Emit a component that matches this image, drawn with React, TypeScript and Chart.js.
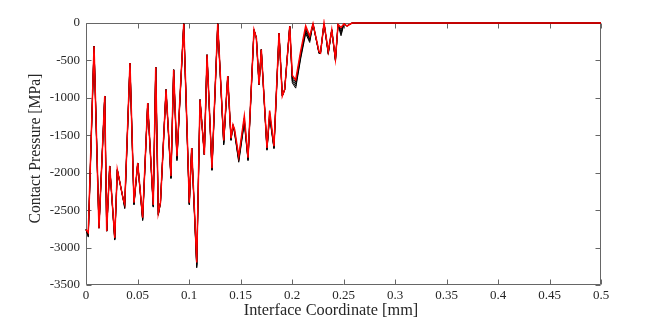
import React, { useEffect, useRef } from "react";
import { Chart, registerables } from "chart.js";

Chart.register(...registerables);

// Interface coordinate [mm]
const xs = [0, 0.0022, 0.0078, 0.0126, 0.0182, 0.0201, 0.023, 0.0279, 0.0304, 0.0362, 0.0376, 0.0427, 0.0466, 0.0502, 0.055, 0.0599, 0.0653, 0.0677, 0.0702, 0.0723, 0.0777, 0.0825, 0.0851, 0.0883, 0.0949, 0.1003, 0.1026, 0.1075, 0.1107, 0.1149, 0.1175, 0.1223, 0.1279, 0.1337, 0.1376, 0.1408, 0.1427, 0.1442, 0.1483, 0.1537, 0.1573, 0.1631, 0.1654, 0.168, 0.1702, 0.1757, 0.1783, 0.1825, 0.1874, 0.1906, 0.1929, 0.1978, 0.2003, 0.2036, 0.2084, 0.2133, 0.2172, 0.2204, 0.2262, 0.2277, 0.2311, 0.2352, 0.2386, 0.2422, 0.2447, 0.2476, 0.2505, 0.2534, 0.2583, 0.5];

// Contact pressure [MPa], red (final) curve
const redPressure = [-2760, -2800, -310, -2740, -975, -2780, -1910, -2870, -1960, -2360, -2420, -535, -2400, -1870, -2600, -1070, -2430, -590, -2540, -2400, -890, -2045, -625, -1780, -10, -2400, -1670, -3200, -1025, -1760, -425, -1940, -10, -1570, -710, -1540, -1360, -1420, -1780, -1245, -1800, -90, -200, -825, -355, -1670, -1170, -1645, -135, -975, -890, -45, -700, -760, -380, -40, -175, -10, -380, -400, 0, -380, -90, -480, -20, -60, -10, -40, 0, 0];

// Contact pressure [MPa], black curves
const black1 = [-2760, -2815, -310, -2740, -975, -2780, -1910, -2878, -1960, -2360, -2435, -535, -2408, -1870, -2610, -1070, -2438, -590, -2548, -2400, -890, -2054, -625, -1795, -10, -2408, -1670, -3218, -1025, -1760, -425, -1948, -10, -1585, -710, -1548, -1360, -1433, -1800, -1269, -1810, -90, -200, -825, -355, -1678, -1193, -1654, -135, -975, -890, -45, -725, -788, -405, -65, -196, -10, -388, -400, 0, -390, -90, -488, -20, -88, -10, -40, 0, 0];
const black2 = [-2760, -2830, -310, -2740, -975, -2780, -1910, -2885, -1960, -2360, -2450, -535, -2415, -1870, -2620, -1070, -2445, -590, -2555, -2400, -890, -2063, -625, -1810, -10, -2415, -1670, -3235, -1025, -1760, -425, -1955, -10, -1600, -710, -1555, -1360, -1445, -1820, -1293, -1820, -90, -200, -825, -355, -1685, -1215, -1663, -135, -975, -890, -45, -750, -815, -430, -90, -218, -10, -395, -400, 0, -400, -90, -495, -20, -115, -10, -40, 0, 0];
const black3 = [-2760, -2845, -310, -2740, -975, -2780, -1910, -2893, -1960, -2360, -2465, -535, -2423, -1870, -2630, -1070, -2453, -590, -2563, -2400, -890, -2071, -625, -1825, -10, -2423, -1670, -3253, -1025, -1760, -425, -1963, -10, -1615, -710, -1563, -1360, -1458, -1840, -1316, -1830, -90, -200, -825, -355, -1693, -1238, -1671, -135, -975, -890, -45, -775, -843, -455, -115, -239, -10, -403, -400, 0, -410, -90, -503, -20, -143, -10, -40, 0, 0];
const black4 = [-2760, -2860, -310, -2740, -975, -2780, -1910, -2900, -1960, -2360, -2480, -535, -2430, -1870, -2640, -1070, -2460, -590, -2570, -2400, -890, -2080, -625, -1840, -10, -2430, -1670, -3270, -1025, -1760, -425, -1970, -10, -1630, -710, -1570, -1360, -1470, -1860, -1340, -1840, -90, -200, -825, -355, -1700, -1260, -1680, -135, -975, -890, -45, -800, -870, -480, -140, -260, -10, -410, -400, 0, -420, -90, -510, -20, -170, -10, -40, 0, 0];

const xTicks = [0, 0.05, 0.1, 0.15, 0.2, 0.25, 0.3, 0.35, 0.4, 0.45, 0.5];
const xTickLabels = ["0", "0.05", "0.1", "0.15", "0.2", "0.25", "0.3", "0.35", "0.4", "0.45", "0.5"];
const yTicks = [-3500, -3000, -2500, -2000, -1500, -1000, -500, 0];
const yTickLabels = ["-3500", "-3000", "-2500", "-2000", "-1500", "-1000", "-500", "0"];

const xTitle = "Interface Coordinate [mm]";
const yTitle = "Contact Pressure [MPa]";

const FONT = "'Liberation Serif', 'Times New Roman', serif";
const TEXT = "#262626";

const toPoints = (ys: number[]) => xs.map((x, i) => ({ x, y: ys[i] }));

const boxPlugin = {
  id: "matlabBox",
  beforeDatasetsDraw(chart: any) {
    const { ctx, chartArea, scales } = chart;
    const L = Math.round(chartArea.left) + 0.5;
    const R = Math.round(chartArea.right) - 0.5;
    const T = Math.round(chartArea.top) + 0.5;
    const B = Math.round(chartArea.bottom) - 0.5;
    const tl = 5;
    ctx.save();
    ctx.strokeStyle = "#666666";
    ctx.lineWidth = 1;
    ctx.beginPath();
    ctx.rect(L, T, R - L, B - T);
    for (const v of xTicks) {
      const px = Math.round(scales.x.getPixelForValue(v)) + 0.5;
      ctx.moveTo(px, B);
      ctx.lineTo(px, B - tl);
      ctx.moveTo(px, T);
      ctx.lineTo(px, T + tl);
    }
    for (const v of yTicks) {
      const py = Math.round(scales.y.getPixelForValue(v)) + 0.5;
      ctx.moveTo(L, py);
      ctx.lineTo(L + tl, py);
      ctx.moveTo(R, py);
      ctx.lineTo(R - tl, py);
    }
    ctx.stroke();
    ctx.restore();
  },
  afterDraw(chart: any) {
    const { ctx } = chart;
    ctx.save();
    ctx.fillStyle = TEXT;
    ctx.textAlign = "center";
    ctx.textBaseline = "middle";
    ctx.font = `16.3px ${FONT}`;
    ctx.fillText(xTitle, 331, 311);
    ctx.translate(36, 148.5);
    ctx.rotate(-Math.PI / 2);
    ctx.font = `15.7px ${FONT}`;
    ctx.fillText(yTitle, 0, 0);
    ctx.restore();
  },
};

export default function App() {
  const ref = useRef<HTMLCanvasElement>(null);
  useEffect(() => {
    document.body.style.margin = "0";
    const canvas = ref.current!;
    const lineStyle = (data: number[], color: string, width: number) => ({
      data: toPoints(data),
      borderColor: color,
      borderWidth: width,
      pointRadius: 0,
      tension: 0,
      clip: 4,
    });
    const chart = new Chart(canvas, {
      type: "line",
      data: {
        datasets: [
          lineStyle(redPressure, "#ff0000", 1.5),
          lineStyle(black1, "#000000", 1),
          lineStyle(black2, "#000000", 1),
          lineStyle(black3, "#000000", 1),
          lineStyle(black4, "#000000", 1),
        ],
      },
      options: {
        animation: false,
        responsive: false,
        devicePixelRatio: 1,
        parsing: false as any,
        layout: { padding: { left: 0, top: 23, right: 63, bottom: 0 } },
        plugins: { legend: { display: false }, tooltip: { enabled: false } },
        scales: {
          x: {
            type: "linear",
            min: 0,
            max: 0.5,
            grid: { display: false, drawTicks: false },
            border: { display: false },
            afterBuildTicks: (s: any) => {
              s.ticks = xTicks.map((v) => ({ value: v }));
            },
            afterFit: (s: any) => {
              s.height = 39;
            },
            ticks: {
              padding: 3,
              maxRotation: 0,
              autoSkip: false,
              color: TEXT,
              font: { family: FONT, size: 13 },
              callback: (_v: any, i: number) => xTickLabels[i],
            },
          },
          y: {
            type: "linear",
            min: -3500,
            max: 0,
            grid: { display: false, drawTicks: false },
            border: { display: false },
            afterBuildTicks: (s: any) => {
              s.ticks = yTicks.map((v) => ({ value: v }));
            },
            afterFit: (s: any) => {
              s.width = 86;
            },
            ticks: {
              padding: 6,
              autoSkip: false,
              color: TEXT,
              font: { family: FONT, size: 13 },
              callback: (_v: any, i: number) => yTickLabels[i],
            },
          },
        },
      },
      plugins: [boxPlugin],
    });
    return () => chart.destroy();
  }, []);
  return (
    <div style={{ position: "fixed", left: 0, top: 0, width: 664, height: 324, background: "#ffffff" }}>
      <canvas ref={ref} width={664} height={324} />
    </div>
  );
}
